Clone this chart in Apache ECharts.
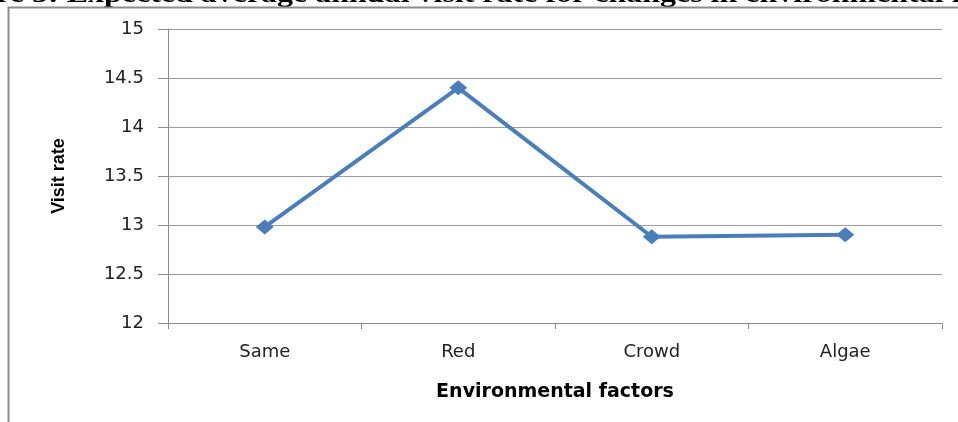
<!DOCTYPE html>
<html>
<head>
<meta charset="utf-8">
<script src="https://cdn.jsdelivr.net/npm/echarts@6/dist/echarts.min.js"></script>
<style>
  html, body { margin: 0; padding: 0; background: #fff; }
  #chart { width: 958px; height: 422px; }
</style>
</head>
<body>
<div id="chart"></div>
<script>
// Environmental factor scenarios and expected visit rates
const categories = ['Same', 'Red', 'Crowd', 'Algae'];
const visitRate = [12.98, 14.4, 12.88, 12.9];
const yMin = 12, yMax = 15, yStep = 0.5;

const figureTitle = 'Figure 5: Expected average annual visit rate for changes in environmental factors';
const labelFont = 'DejaVu Sans';

const chart = echarts.init(document.getElementById('chart'), null, { renderer: 'canvas' });

chart.setOption({
  animation: false,
  backgroundColor: '#ffffff',
  graphic: [
    {
      // caption above the framed chart, running off the page edges
      type: 'text',
      x: -66,
      y: -18,
      scaleX: 1.23,
      style: {
        text: figureTitle,
        font: 'bold 26px "Liberation Serif"',
        fill: '#000',
        textBaseline: 'top'
      },
      z: 10
    },
    {
      type: 'rect',
      shape: { x: 8.5, y: 7.5, width: 1200, height: 600 },
      style: { fill: 'none', stroke: '#8c8c8c', lineWidth: 2 },
      z: 11
    }
  ],
  grid: { left: 168, top: 29, right: 16, bottom: 99, containLabel: false },
  xAxis: {
    type: 'category',
    data: categories,
    boundaryGap: true,
    name: 'Environmental factors',
    nameLocation: 'middle',
    nameGap: 60,
    nameTextStyle: { fontFamily: labelFont, fontWeight: 'bold', fontSize: 19, color: '#000' },
    axisLine: { lineStyle: { color: '#8c8c8c', width: 1 } },
    axisTick: { show: true, length: 6, lineStyle: { color: '#8c8c8c' } },
    axisLabel: { fontFamily: labelFont, fontSize: 18, color: '#222', margin: 20 }
  },
  yAxis: {
    type: 'value',
    min: yMin,
    max: yMax,
    interval: yStep,
    name: 'Visit rate',
    nameLocation: 'middle',
    nameGap: 100,
    nameRotate: 90,
    nameTextStyle: { fontFamily: 'Liberation Sans Narrow, Liberation Sans', fontWeight: 'bold', fontSize: 18, color: '#000' },
    axisLine: { show: true, lineStyle: { color: '#8c8c8c', width: 1 } },
    axisTick: { show: true, length: 10, lineStyle: { color: '#8c8c8c' } },
    axisLabel: { fontFamily: labelFont, fontSize: 18, color: '#222', margin: 24 },
    splitLine: { show: true, lineStyle: { color: '#9c9c9c', width: 1 } }
  },
  series: [
    {
      type: 'line',
      data: visitRate,
      symbol: 'diamond',
      symbolSize: [18, 15],
      itemStyle: { color: '#4a7ebb' },
      lineStyle: { color: '#4a7ebb', width: 4 }
    }
  ]
});
</script>
</body>
</html>
